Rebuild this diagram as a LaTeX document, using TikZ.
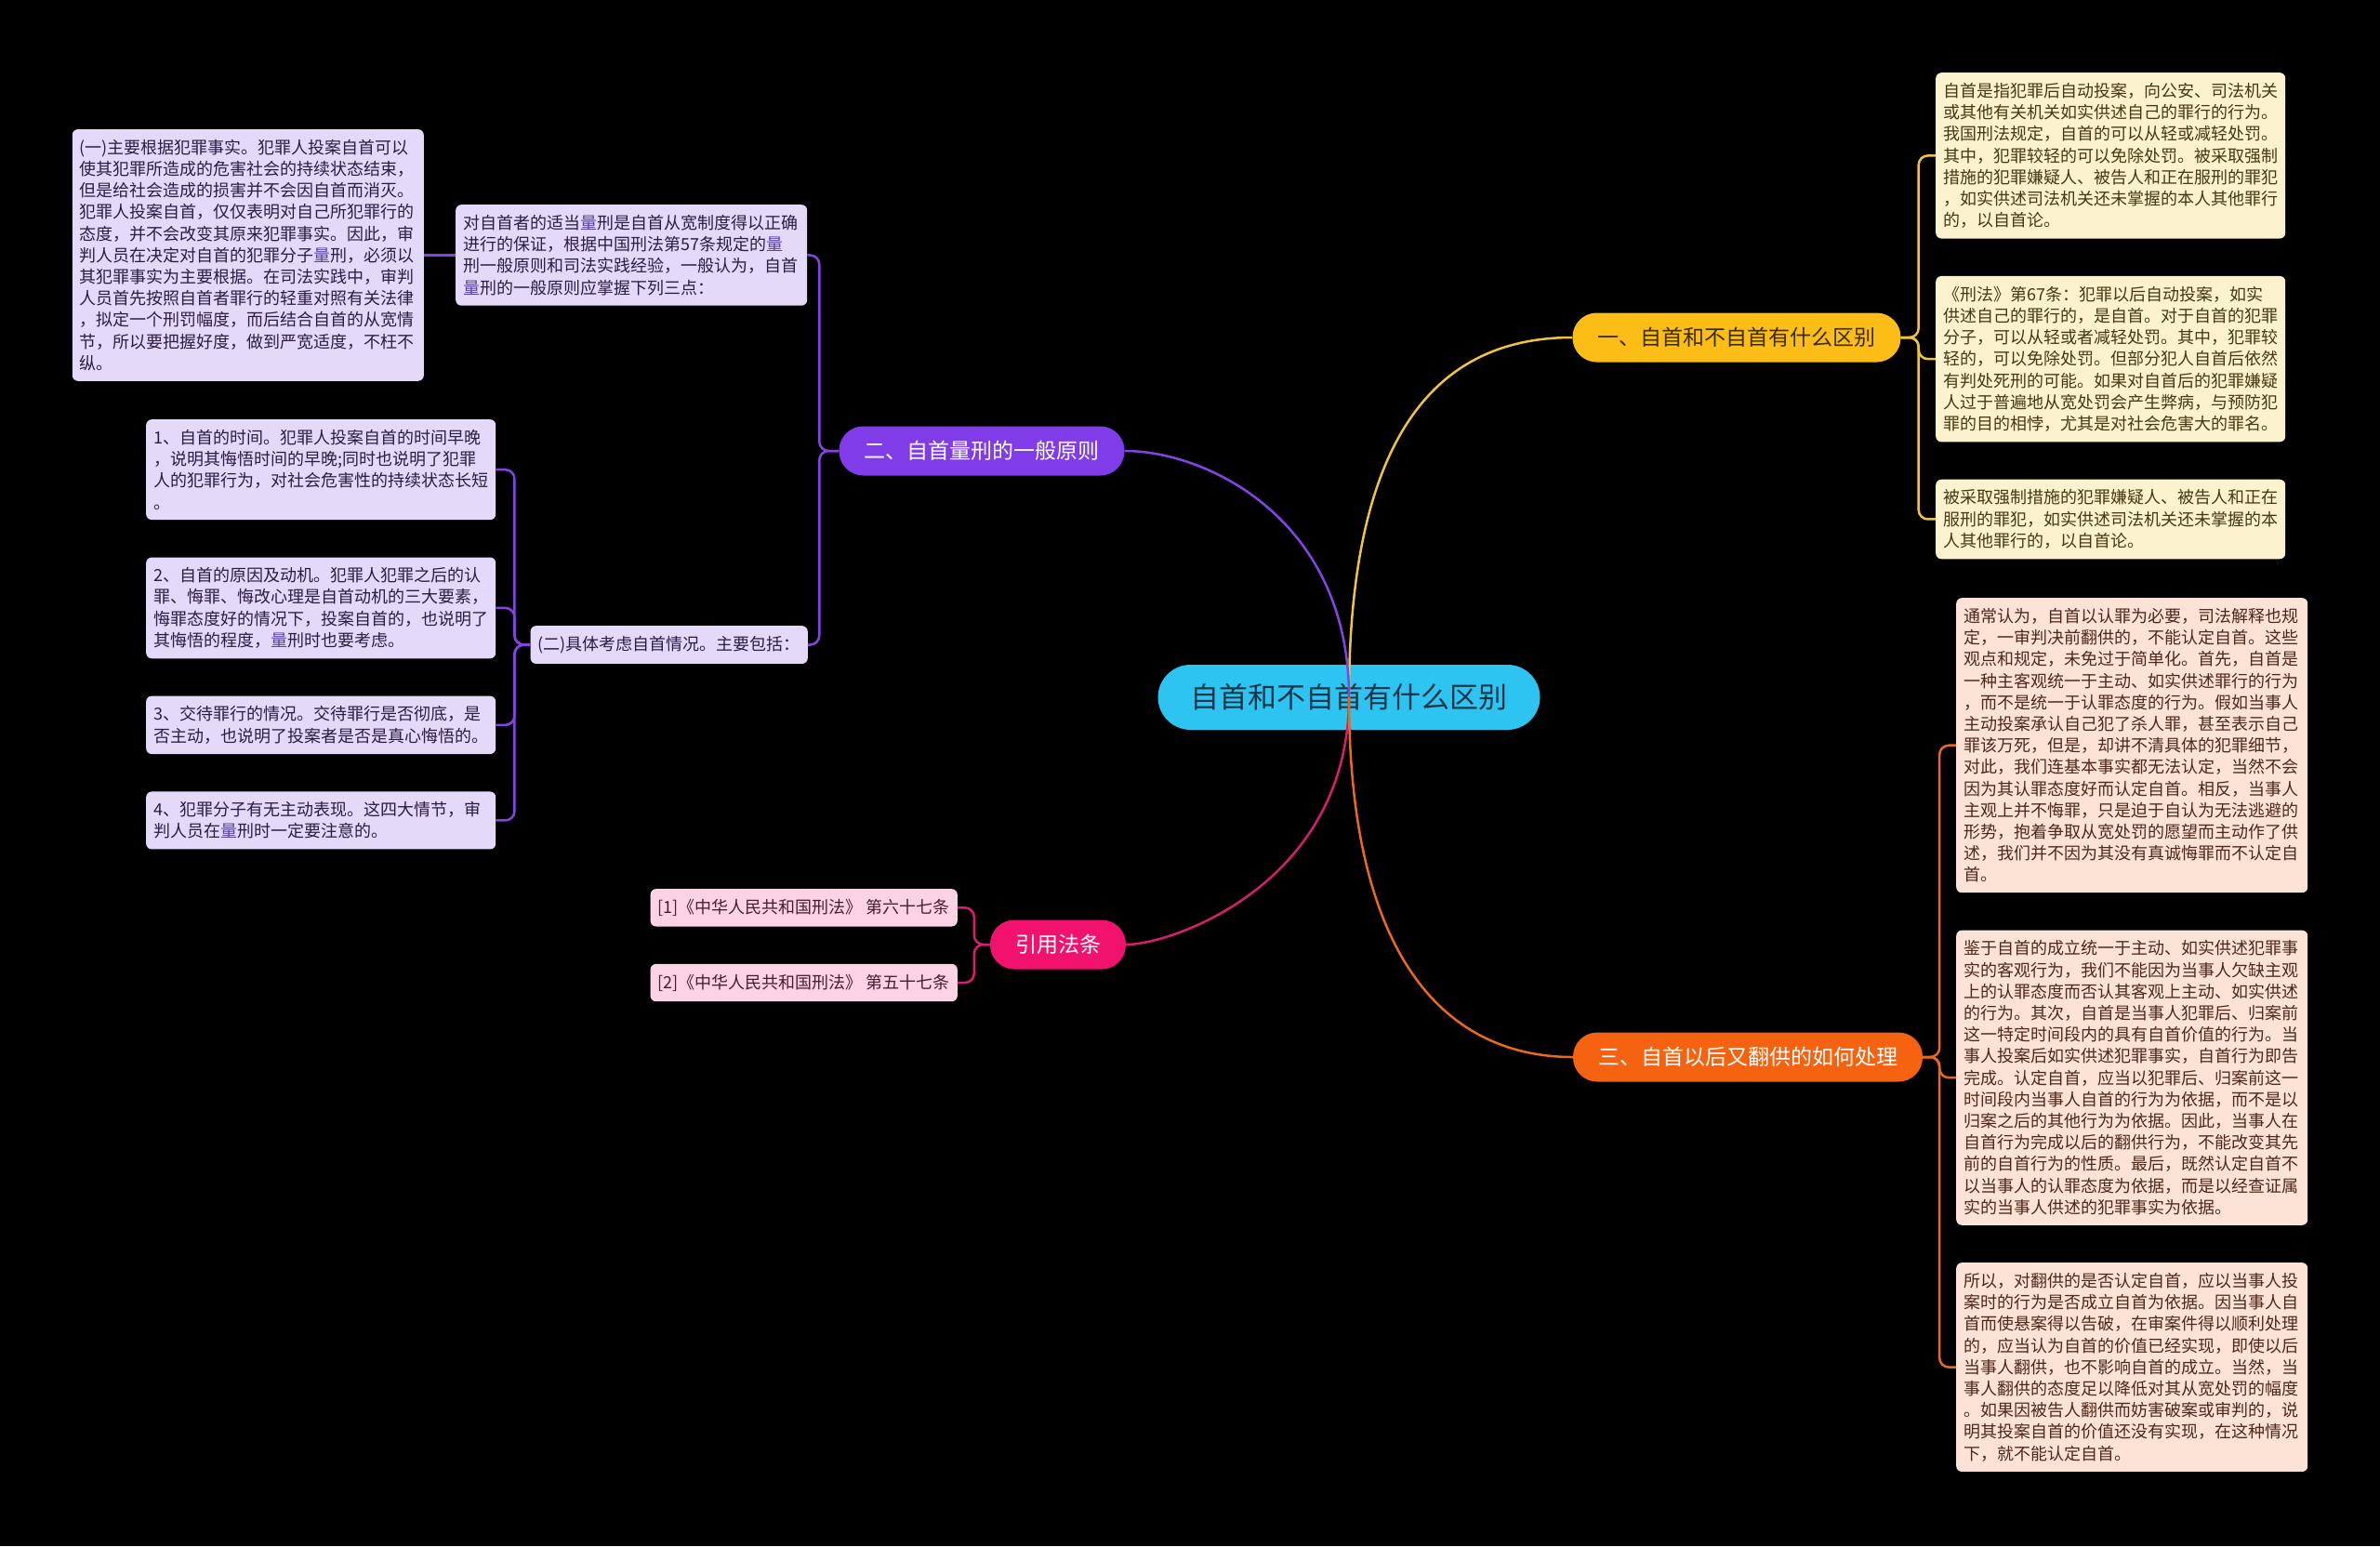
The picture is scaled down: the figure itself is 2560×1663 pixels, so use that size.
\documentclass[tikz,border=0pt]{standalone}
\usepackage{fontspec}
\usepackage{xcolor}
\usepackage{tikz}
\usetikzlibrary{positioning}
\setmainfont{Noto Sans CJK SC}
\definecolor{mapCyan}{RGB}{46, 196, 242}
\definecolor{mapNavy}{RGB}{22, 54, 72}
\definecolor{mapGold}{RGB}{251, 189, 22}
\definecolor{mapGoldDark}{RGB}{60, 44, 5}
\definecolor{mapGoldLine}{RGB}{240, 196, 60}
\definecolor{mapGoldLeaf}{RGB}{253, 242, 206}
\definecolor{mapGoldText}{RGB}{70, 56, 16}
\definecolor{mapViolet}{RGB}{128, 60, 232}
\definecolor{mapVioletLine}{RGB}{132, 68, 228}
\definecolor{mapVioletLeaf}{RGB}{229, 217, 250}
\definecolor{mapVioletText}{RGB}{45, 28, 70}
\definecolor{mapLink}{RGB}{88, 62, 170}
\definecolor{mapRose}{RGB}{240, 18, 108}
\definecolor{mapRoseLine}{RGB}{214, 30, 110}
\definecolor{mapRoseLeaf}{RGB}{251, 211, 228}
\definecolor{mapRoseText}{RGB}{74, 28, 46}
\definecolor{mapOrange}{RGB}{245, 98, 16}
\definecolor{mapOrangeLine}{RGB}{236, 104, 30}
\definecolor{mapOrangeLeaf}{RGB}{253, 226, 214}
\definecolor{mapOrangeText}{RGB}{78, 40, 24}
\newcommand{\kw}[1]{\textcolor{mapLink}{#1}}

\begin{document}
\begin{tikzpicture}[x=1pt, y=-1pt,
  root/.style={
    rectangle, rounded corners=35pt,
    minimum height=70pt, inner xsep=35pt,
    fill=mapCyan, text=mapNavy,
    font=\fontsize{31}{36}\selectfont
  },
  branch/.style={
    rectangle, rounded corners=26pt,
    minimum height=53pt, inner xsep=27pt,
    font=\fontsize{23}{28}\selectfont
  },
  leaf/.style={
    rectangle, rounded corners=6pt,
    inner xsep=8pt, inner ysep=11pt,
    align=left, font=\fontsize{18}{23.2}\selectfont
  },
  goldleaf/.style={leaf, fill=mapGoldLeaf, text=mapGoldText},
  violetleaf/.style={leaf, fill=mapVioletLeaf, text=mapVioletText},
  roseleaf/.style={leaf, fill=mapRoseLeaf, text=mapRoseText},
  orangeleaf/.style={leaf, fill=mapOrangeLeaf, text=mapOrangeText},
  wire/.style={line width=2.5pt, rounded corners=10pt},
  node distance=40pt
]

\fill[black] (0,0) rectangle (2560,1663);
\useasboundingbox (0,0) rectangle (2560,1663);

\node[root] (root) at (1451,750) {自首和不自首有什么区别};

\node[branch, fill=mapGold, text=mapGoldDark] (gold) at (1868,363)
  {一、自首和不自首有什么区别};
\node[branch, fill=mapViolet, text=white] (violet) at (1056,485)
  {二、自首量刑的一般原则};
\node[branch, fill=mapRose, text=white] (rose) at (1138,1016)
  {引用法条};
\node[branch, fill=mapOrange, text=white] (orange) at (1880,1137)
  {三、自首以后又翻供的如何处理};

% right side, first branch
\node[goldleaf, text width=360pt, anchor=north west] (gold1) at (2082,78)
  {自首是指犯罪后自动投案，向公安、司法机关\\
   或其他有关机关如实供述自己的罪行的行为。\\
   我国刑法规定，自首的可以从轻或减轻处罚。\\
   其中，犯罪较轻的可以免除处罚。被采取强制\\
   措施的犯罪嫌疑人、被告人和正在服刑的罪犯\\
   ，如实供述司法机关还未掌握的本人其他罪行\\
   的，以自首论。};
\node[goldleaf, text width=360pt, below=of gold1] (gold2)
  {《刑法》第67条：犯罪以后自动投案，如实\\
   供述自己的罪行的，是自首。对于自首的犯罪\\
   分子，可以从轻或者减轻处罚。其中，犯罪较\\
   轻的，可以免除处罚。但部分犯人自首后依然\\
   有判处死刑的可能。如果对自首后的犯罪嫌疑\\
   人过于普遍地从宽处罚会产生弊病，与预防犯\\
   罪的目的相悖，尤其是对社会危害大的罪名。};
\node[goldleaf, text width=360pt, below=of gold2] (gold3)
  {被采取强制措施的犯罪嫌疑人、被告人和正在\\
   服刑的罪犯，如实供述司法机关还未掌握的本\\
   人其他罪行的，以自首论。};

% right side, third branch
\node[orangeleaf, text width=362pt, anchor=north west] (orange1) at (2104,643)
  {通常认为，自首以认罪为必要，司法解释也规\\
   定，一审判决前翻供的，不能认定自首。这些\\
   观点和规定，未免过于简单化。首先，自首是\\
   一种主客观统一于主动、如实供述罪行的行为\\
   ，而不是统一于认罪态度的行为。假如当事人\\
   主动投案承认自己犯了杀人罪，甚至表示自己\\
   罪该万死，但是，却讲不清具体的犯罪细节，\\
   对此，我们连基本事实都无法认定，当然不会\\
   因为其认罪态度好而认定自首。相反，当事人\\
   主观上并不悔罪，只是迫于自认为无法逃避的\\
   形势，抱着争取从宽处罚的愿望而主动作了供\\
   述，我们并不因为其没有真诚悔罪而不认定自\\
   首。};
\node[orangeleaf, text width=362pt, below=of orange1] (orange2)
  {鉴于自首的成立统一于主动、如实供述犯罪事\\
   实的客观行为，我们不能因为当事人欠缺主观\\
   上的认罪态度而否认其客观上主动、如实供述\\
   的行为。其次，自首是当事人犯罪后、归案前\\
   这一特定时间段内的具有自首价值的行为。当\\
   事人投案后如实供述犯罪事实，自首行为即告\\
   完成。认定自首，应当以犯罪后、归案前这一\\
   时间段内当事人自首的行为为依据，而不是以\\
   归案之后的其他行为为依据。因此，当事人在\\
   自首行为完成以后的翻供行为，不能改变其先\\
   前的自首行为的性质。最后，既然认定自首不\\
   以当事人的认罪态度为依据，而是以经查证属\\
   实的当事人供述的犯罪事实为依据。};
\node[orangeleaf, text width=362pt, below=of orange2] (orange3)
  {所以，对翻供的是否认定自首，应以当事人投\\
   案时的行为是否成立自首为依据。因当事人自\\
   首而使悬案得以告破，在审案件得以顺利处理\\
   的，应当认为自首的价值已经实现，即使以后\\
   当事人翻供，也不影响自首的成立。当然，当\\
   事人翻供的态度足以降低对其从宽处罚的幅度\\
   。如果因被告人翻供而妨害破案或审判的，说\\
   明其投案自首的价值还没有实现，在这种情况\\
   下，就不能认定自首。};

% left side, second branch
\node[violetleaf, text width=362pt, anchor=north west] (violet1) at (490,220)
  {对自首者的适当\kw{量}刑是自首从宽制度得以正确\\
   进行的保证，根据中国刑法第57条规定的\kw{量}\\
   刑一般原则和司法实践经验，一般认为，自首\\
   \kw{量}刑的一般原则应掌握下列三点：};
\node[violetleaf, text width=362pt, left=34pt of violet1] (violet0)
  {(一)主要根据犯罪事实。犯罪人投案自首可以\\
   使其犯罪所造成的危害社会的持续状态结束，\\
   但是给社会造成的损害并不会因自首而消灭。\\
   犯罪人投案自首，仅仅表明对自己所犯罪行的\\
   态度，并不会改变其原来犯罪事实。因此，审\\
   判人员在决定对自首的犯罪分子\kw{量}刑，必须以\\
   其犯罪事实为主要根据。在司法实践中，审判\\
   人员首先按照自首者罪行的轻重对照有关法律\\
   ，拟定一个刑罚幅度，而后结合自首的从宽情\\
   节，所以要把握好度，做到严宽适度，不枉不\\
   纵。};
\node[violetleaf, anchor=north east] (violet2) at (869,673)
  {(二)具体考虑自首情况。主要包括：};

\node[violetleaf, text width=360pt, anchor=north west] (point1) at (157,451)
  {1、自首的时间。犯罪人投案自首的时间早晚\\
   ，说明其悔悟时间的早晚;同时也说明了犯罪\\
   人的犯罪行为，对社会危害性的持续状态长短\\
   。};
\node[violetleaf, text width=360pt, below=of point1] (point2)
  {2、自首的原因及动机。犯罪人犯罪之后的认\\
   罪、悔罪、悔改心理是自首动机的三大要素，\\
   悔罪态度好的情况下，投案自首的，也说明了\\
   其悔悟的程度，\kw{量}刑时也要考虑。};
\node[violetleaf, text width=360pt, below=of point2] (point3)
  {3、交待罪行的情况。交待罪行是否彻底，是\\
   否主动，也说明了投案者是否是真心悔悟的。};
\node[violetleaf, text width=360pt, below=of point3] (point4)
  {4、犯罪分子有无主动表现。这四大情节，审\\
   判人员在\kw{量}刑时一定要注意的。};

% left side, citations
\node[roseleaf, anchor=north east] (law1) at (1030,956)
  {[1]《中华人民共和国刑法》 第六十七条};
\node[roseleaf, below=of law1] (law2)
  {[2]《中华人民共和国刑法》 第五十七条};

% brackets
\draw[wire, mapGoldLine] (gold.east) -- ++(19,0) |- (gold1.west);
\draw[wire, mapGoldLine] (gold.east) -- ++(19,0) |- (gold2.west);
\draw[wire, mapGoldLine] (gold.east) -- ++(19,0) |- (gold3.west);

\draw[wire, mapOrangeLine] (orange.east) -- ++(18,0) |- (orange1.west);
\draw[wire, mapOrangeLine] (orange.east) -- ++(18,0) |- (orange2.west);
\draw[wire, mapOrangeLine] (orange.east) -- ++(18,0) |- (orange3.west);

\draw[wire, mapVioletLine] (violet.west) -- ++(-21,0) |- (violet1.east);
\draw[wire, mapVioletLine] (violet.west) -- ++(-21,0) |- (violet2.east);
\draw[wire, mapVioletLine] (violet1.west) -- (violet0.east);

\draw[wire, mapVioletLine] (violet2.west) -- ++(-17,0) |- (point1.east);
\draw[wire, mapVioletLine] (violet2.west) -- ++(-17,0) |- (point2.east);
\draw[wire, mapVioletLine] (violet2.west) -- ++(-17,0) |- (point3.east);
\draw[wire, mapVioletLine] (violet2.west) -- ++(-17,0) |- (point4.east);

\draw[wire, mapRoseLine] (rose.west) -- ++(-17,0) |- (law1.east);
\draw[wire, mapRoseLine] (rose.west) -- ++(-17,0) |- (law2.east);

% main curves
\draw[wire, mapGoldLine] (root.center) .. controls +(0,-300) and +(-133,0) .. (gold.west);
\draw[wire, mapVioletLine] (root.center) .. controls +(0,-190) and +(90,0) .. (violet.east);
\draw[wire, mapRoseLine] (root.center) .. controls +(0,200) and +(50,0) .. (rose.east);
\draw[wire, mapOrangeLine] (root.center) .. controls +(0,290) and +(-130,0) .. (orange.west);

\end{tikzpicture}
\end{document}
